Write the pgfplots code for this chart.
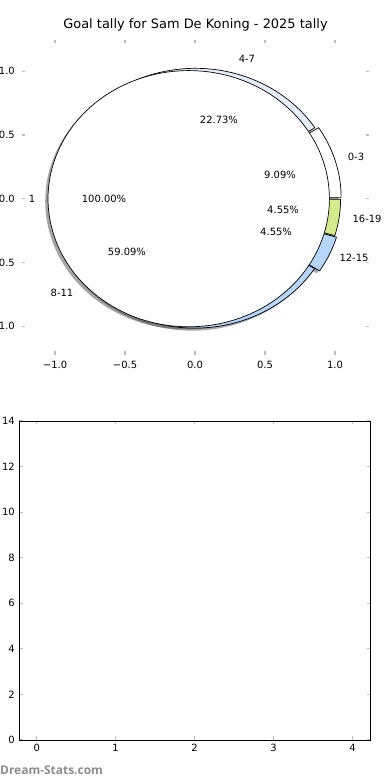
\documentclass[border=0pt]{standalone}
\usepackage{fontspec}
\setmainfont{DejaVu Sans}
\newfontfamily\wmfont{Open Sans}
\usepackage{pgfplots}
\pgfplotsset{compat=1.18}
\definecolor{cA}{HTML}{FFFFFF}   % 0-3
\definecolor{cB}{HTML}{E6EEFC}   % 4-7
\definecolor{cC}{HTML}{B5D5FA}   % 8-11
\definecolor{cD}{HTML}{B5D5FA}   % 12-15
\definecolor{cE}{HTML}{D2EB8C}   % 16-19
\definecolor{tickgray}{HTML}{BEBEBE}
\definecolor{wmgray}{HTML}{8C8C8C}
% wedge: centre x, centre y, radius, start angle, end angle, style
\newcommand{\pieWedge}[6]{%
  \addplot[#6, domain=#4:#5, samples=90, variable=\t, line join=round]
    ({#1+#3*cos(\t)},{#2+#3*sin(\t)}) -- (axis cs:#1,#2) -- cycle;
}
\newcommand{\pieShadow}[5]{%
  \addplot[draw=none, fill=black!70, fill opacity=0.5, domain=#4:#5, samples=90, variable=\t]
    ({#1-0.02+#3*cos(\t)},{#2-0.02+#3*sin(\t)}) -- (axis cs:#1-0.02,#2-0.02) -- cycle;
}
\begin{document}
\begin{tikzpicture}[x=1bp,y=1bp]
\useasboundingbox (0,0) rectangle (390,780);
\pgfplotsset{
  every tick label/.append style={font=\fontsize{10}{12}\selectfont},
  major tick style={tickgray, line width=1.2bp},
  major tick length=3.5bp,
  tick align=inside,
}
% ---------------- top: pie ----------------
\begin{axis}[
  at={(21.7bp,425bp)}, anchor=south west,
  width=347.6bp, height=315bp, scale only axis,
  xmin=-1.238, xmax=1.245, ymin=-1.226, ymax=1.245,
  axis line style={draw=none},
  clip=false,
  xtick={-1,-0.5,0,0.5,1},
  xticklabels={−1.0,−0.5,0.0,0.5,1.0},
  ytick={-1,-0.5,0,0.5,1},
  yticklabels={−1.0,−0.5,0.0,0.5,1.0},
  xticklabel style={yshift=-3bp},
  yticklabel style={xshift=-3.4bp},
  title={Goal tally for Sam De Koning - 2025 tally},
  title style={at={(0.5,1)}, anchor=base, yshift=5.7bp, font=\fontsize{13}{15}\selectfont},
]
% goal counts by minute band: 0-3:2, 4-7:5, 8-11:13, 12-15:1, 16-19:1 (of 22)
% shares 9.09, 22.73, 59.09, 4.55, 4.55 % -> angles 0, 32.727, 114.545, 327.273, 343.636, 360
% shadows
\pieShadow{0.02879}{0.00845}{1.015}{0}{32.727}
\pieShadow{0.00225}{0.00768}{1.015}{32.727}{114.545}
\pieShadow{0}{0}{1.015}{114.545}{327.273}
\pieShadow{0.03184}{-0.01454}{1.02}{327.273}{343.636}
\pieShadow{0.02475}{-0.00356}{1.015}{343.636}{360}
\addplot[draw=none, fill=black!70, fill opacity=0.5, domain=0:360, samples=181, variable=\t]
  ({-0.045-0.02+1.005*cos(\t)},{-0.02+1.005*sin(\t)}) -- cycle;
% outer wedges
\pieWedge{0.02879}{0.00845}{1.015}{0}{32.727}{draw=black, line width=0.7bp, fill=cA}
\pieWedge{0.00225}{0.00768}{1.015}{32.727}{114.545}{draw=black, line width=0.7bp, fill=cB}
\pieWedge{0}{0}{1.015}{114.545}{327.273}{draw=black, line width=0.7bp, fill=cC}
\pieWedge{0.03184}{-0.01454}{1.02}{327.273}{343.636}{draw=black, line width=0.7bp, fill=cD}
\pieWedge{0.02475}{-0.00356}{1.015}{343.636}{360}{draw=black, line width=0.7bp, fill=cE}
% inner pie: single group "1", 100%
\addplot[draw=black, line width=0.7bp, fill=white, domain=0:360, samples=181, variable=\t]
  ({-0.045+1.005*cos(\t)},{1.005*sin(\t)}) -- cycle;
% labels
\begin{scope}[every node/.style={font=\fontsize{10}{12}\selectfont, inner sep=0pt}]
\node at (axis cs:0.371,1.10) {4-7};
\node at (axis cs:0.171,0.617) {22.73\%};
\node at (axis cs:1.15,0.326) {0-3};
\node at (axis cs:0.607,0.186) {9.09\%};
\node at (axis cs:1.229,-0.159) {16-19};
\node at (axis cs:0.629,-0.09) {4.55\%};
\node at (axis cs:0.579,-0.262) {4.55\%};
\node at (axis cs:1.136,-0.466) {12-15};
\node at (axis cs:-0.486,-0.418) {59.09\%};
\node at (axis cs:-0.95,-0.74) {8-11};
\node at (axis cs:-0.65,0) {100.00\%};
\node at (axis cs:-1.164,0) {1};
\end{scope}
\end{axis}
% ---------------- bottom: empty axes ----------------
\begin{axis}[
  at={(19.3bp,40bp)}, anchor=south west,
  width=350.7bp, height=319bp, scale only axis,
  xmin=-0.22, xmax=4.22, ymin=0, ymax=14,
  axis line style={black, line width=0.8bp},
  xtick={0,1,2,3,4},
  ytick={0,2,4,6,8,10,12,14},
  xticklabels={0,1,2,3,4},
  yticklabels={0,2,4,6,8,10,12,14},
  xticklabel style={yshift=-1bp},
  yticklabel style={xshift=-1bp},
]
\end{axis}
\node[anchor=base west, inner sep=0pt, text=wmgray, font=\wmfont\bfseries\fontsize{12}{14}\selectfont] at (0,5) {Dream-Stats.com};
\end{tikzpicture}
\end{document}
